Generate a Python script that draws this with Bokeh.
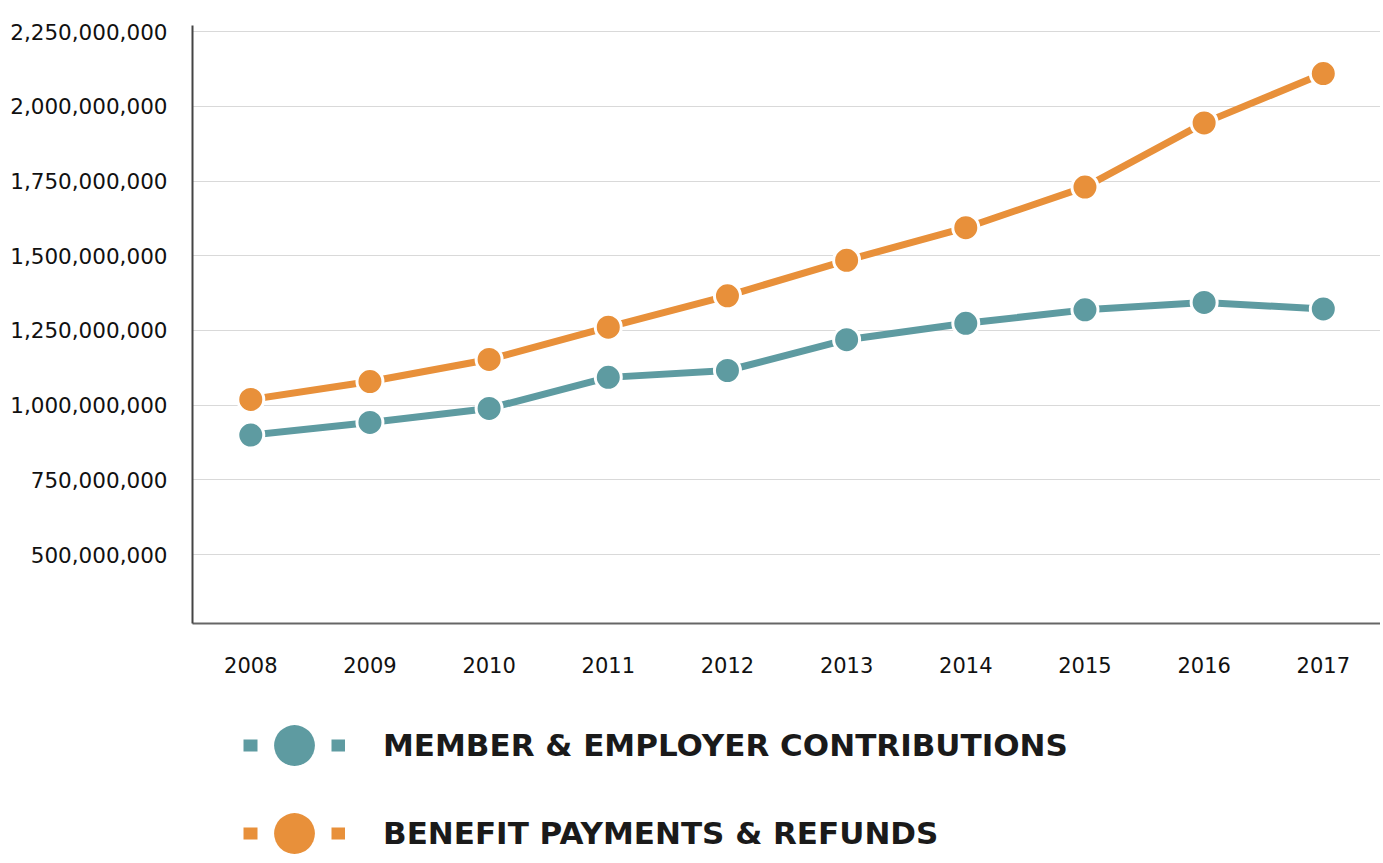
from bokeh.plotting import figure
from bokeh.layouts import column
from bokeh.models import (ColumnDataSource, Range1d, FixedTicker, SingleIntervalTicker,
                          NumeralTickFormatter, Legend, LegendItem)
from bokeh.embed import file_html
from bokeh.resources import INLINE

# ---- data ----
years = [2008, 2009, 2010, 2011, 2012, 2013, 2014, 2015, 2016, 2017]
contributions = [900e6, 942e6, 989e6, 1093e6, 1116e6, 1219e6, 1274e6, 1319e6, 1344e6, 1322e6]
benefits = [1019e6, 1079e6, 1153e6, 1261e6, 1366e6, 1485e6, 1594e6, 1730e6, 1945e6, 2110e6]
series_names = ["MEMBER & EMPLOYER CONTRIBUTIONS", "BENEFIT PAYMENTS & REFUNDS"]
series_colors = ["#5E9BA1", "#E8903A"]
series_cols = ["contrib", "benefit"]

src = ColumnDataSource(dict(year=years, contrib=contributions, benefit=benefits))

p = figure(width=1380, height=683, output_backend="svg", toolbar_location=None,
           x_range=Range1d(2007.511, 2017.48), y_range=Range1d(269e6, 2271e6),
           min_border_left=192, min_border_right=0, min_border_top=25, min_border_bottom=60)
p.outline_line_color = None
p.background_fill_color = "white"

# lines and markers
for col, color in zip(series_cols, series_colors):
    p.line("year", col, source=src, line_color=color, line_width=7)
for col, color in zip(series_cols, series_colors):
    p.scatter("year", col, source=src, size=26, fill_color=color,
              line_color="white", line_width=3)

# axes
p.xaxis.ticker = FixedTicker(ticks=years)
p.yaxis.ticker = SingleIntervalTicker(interval=250e6, num_minor_ticks=0)
p.yaxis.formatter = NumeralTickFormatter(format="0,0")
for ax in (p.xaxis[0], p.yaxis[0]):
    ax.major_tick_line_color = None
    ax.minor_tick_line_color = None
    ax.major_label_text_font = "DejaVu Sans"
    ax.major_label_text_font_size = "21px"
    ax.major_label_text_color = "#111111"
    ax.axis_line_width = 2
p.yaxis.major_label_text_font_size = "21.5px"
p.yaxis.axis_line_color = "#444444"
p.xaxis.axis_line_color = "#666666"
p.yaxis.major_label_standoff = 19
p.xaxis.major_label_standoff = 27

p.xgrid.grid_line_color = None
p.ygrid.grid_line_color = "#d9d9d9"
p.ygrid.grid_line_width = 1

# ---- legend panel: same data, drawn outside this panel's view so only legend swatches show ----
lg = figure(width=1380, height=174, output_backend="svg", toolbar_location=None,
            x_range=Range1d(0, 1), y_range=Range1d(0, 1),
            min_border_left=192, min_border_right=0, min_border_top=0, min_border_bottom=0)
lg.axis.visible = False
lg.grid.visible = False
lg.outline_line_color = None

legend_offsets = [(51, 52), (51, -36)]
for name, color, col, loc in zip(series_names, series_colors, series_cols, legend_offsets):
    lr = lg.line("year", col, source=src, line_color=color, line_width=12, line_dash="14 74")
    sr = lg.scatter("year", col, source=src, fill_color=color, line_color=color,
                    line_width=0, size=48)
    leg = Legend(items=[LegendItem(label=name, renderers=[lr, sr])], location=loc,
                 glyph_width=102, glyph_height=120, spacing=0, padding=0, margin=0,
                 label_standoff=38, label_text_font="DejaVu Sans",
                 label_text_font_style="bold", label_text_font_size="31px",
                 label_text_color="#1a1a1a", background_fill_alpha=0,
                 border_line_color=None)
    lg.add_layout(leg, "center")

layout = column(p, lg, spacing=0)
open("out.html", "w").write(file_html(layout, INLINE))
